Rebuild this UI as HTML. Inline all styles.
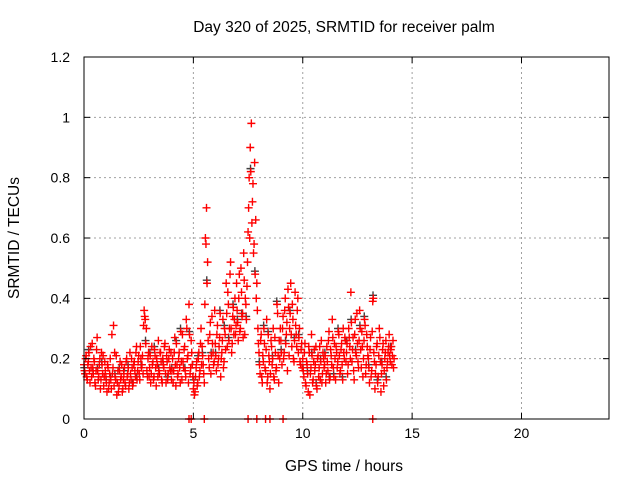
<!DOCTYPE html>
<html><head><meta charset="utf-8"><style>
html,body{margin:0;padding:0;background:#fff;}
svg{display:block;font-family:"Liberation Sans",sans-serif;}
</style></head><body>
<svg id="chart" width="640" height="480" viewBox="0 0 640 480" xmlns="http://www.w3.org/2000/svg">
<rect width="640" height="480" fill="#fff"/>
<g id="grid"></g>
<g id="pts"></g>
<g id="axes"></g>
<text x="344" y="32" font-size="15.5" text-anchor="middle">Day 320 of 2025, SRMTID for receiver palm</text>
<text x="344" y="471" font-size="15.5" text-anchor="middle">GPS time / hours</text>
<text transform="translate(19,238) rotate(-90)" font-size="15.5" text-anchor="middle">SRMTID / TECUs</text>
</svg>
<script>
const xTicks=[0,5,10,15,20];
const yTicks=[0,0.2,0.4,0.6,0.8,1,1.2];
const yTickLabels=["0","0.2","0.4","0.6","0.8","1","1.2"];
const stepHours=0.05;
const seriesA=[
.18,.15,.21,.13,.19,.16,.24,.14,.17,.20,.12,.16,.27,.13,.18,.10,.22,.15,.11,.19,
.14,.09,.17,.12,.20,.10,.15,.31,.22,.13,.08,.16,.11,.19,.14,.09,.13,.17,.11,.20,
.15,.10,.22,.13,.17,.12,.19,.14,.24,.16,.21,.13,.20,.18,.15,.36,.33,.30,.14,.22,
.17,.12,.24,.19,.14,.21,.11,.18,.26,.15,.22,.13,.20,.17,.25,.12,.19,.15,.23,.16,
.13,.20,.16,.27,.11,.18,.15,.22,.12,.19,.28,.17,.24,.14,.30,.21,.38,.15,.26,.18,
.10,.08,.14,.19,.12,.22,.16,.30,.24,.18,.12,.60,.70,.52,.20,.28,.15,.34,.22,.19,
.25,.16,.31,.20,.27,.14,.22,.33,.19,.28,.45,.24,.38,.30,.52,.22,.34,.28,.40,.31,
.36,.26,.48,.30,.42,.35,.55,.28,.38,.44,.62,.80,.90,.98,.72,.55,.85,.66,.45,.30,
.22,.15,.28,.12,.19,.25,.16,.33,.14,.21,.10,.26,.18,.30,.13,.22,.17,.35,.12,.20,
.26,.18,.34,.22,.40,.28,.16,.37,.30,.45,.24,.33,.19,.42,.28,.36,.22,.30,.18,.25,
.20,.14,.25,.11,.18,.09,.22,.15,.28,.12,.19,.16,.24,.10,.21,.17,.13,.26,.15,.20,
.18,.12,.24,.16,.29,.14,.21,.33,.17,.25,.13,.22,.19,.28,.15,.23,.18,.30,.20,.26,
.22,.15,.30,.24,.42,.19,.27,.13,.33,.21,.25,.17,.36,.23,.29,.14,.26,.31,.18,.24,
.20,.12,.27,.16,.39,.22,.10,.18,.25,.14,.30,.19,.15,.23,.11,.20,.26,.17,.22,.28,
.19,.24,.21,.17];
const seriesB=[
.16,.20,.14,.18,.22,.12,.17,.25,.15,.19,.11,.23,.16,.14,.20,.13,.18,.21,.14,.16,
.12,.18,.10,.15,.13,.28,.17,.11,.14,.21,.12,.09,.16,.13,.18,.10,.15,.12,.19,.14,
.17,.12,.15,.20,.11,.18,.16,.22,.13,.19,.15,.24,.17,.21,.31,.34,.25,.16,.20,.14,
.21,.15,.18,.13,.23,.17,.20,.14,.16,.22,.19,.12,.18,.24,.15,.21,.13,.20,.17,.22,
.16,.12,.22,.18,.25,.14,.20,.17,.29,.13,.19,.23,.16,.33,.20,.12,.28,.17,.22,.14,
.12,.09,.17,.11,.20,.14,.25,.18,.21,.15,.38,.58,.45,.26,.17,.32,.21,.25,.18,.36,
.21,.28,.18,.24,.35,.20,.26,.17,.30,.23,.35,.42,.26,.48,.30,.25,.37,.33,.28,.45,
.32,.40,.29,.50,.34,.27,.46,.40,.33,.52,.70,.60,.82,.65,.78,.58,.48,.40,.36,.25,
.18,.26,.14,.21,.30,.17,.23,.12,.28,.19,.15,.24,.20,.14,.27,.16,.38,.21,.26,.30,
.22,.30,.20,.36,.25,.32,.43,.21,.35,.28,.38,.20,.26,.31,.24,.40,.27,.19,.23,.17,
.16,.22,.12,.19,.15,.24,.08,.17,.21,.13,.23,.18,.11,.20,.14,.24,.19,.12,.22,.17,
.21,.15,.19,.26,.13,.23,.18,.27,.14,.20,.24,.17,.29,.21,.16,.25,.13,.22,.27,.19,
.25,.18,.27,.20,.32,.23,.16,.28,.22,.35,.19,.26,.30,.17,.24,.20,.33,.15,.28,.21,
.17,.23,.14,.29,.40,.19,.15,.24,.12,.21,.27,.09,.18,.25,.16,.22,.13,.19,.24,.21,
.23,.18,.26,.20];
const zeroTimes=[4.8,4.9,5.5,7.5,7.9,8.3,8.5,9.1,13.2];

const X0=84,X1=609,Y0=419,Y1=57;
const xs=h=>X0+(h/24)*(X1-X0);
const ys=v=>Y0-(v/1.2)*(Y0-Y1);
const NS="http://www.w3.org/2000/svg";
function mk(tag,attrs,parent){const e=document.createElementNS(NS,tag);for(const k in attrs)e.setAttribute(k,attrs[k]);parent.appendChild(e);return e;}
const grid=document.getElementById('grid'),axes=document.getElementById('axes'),pts=document.getElementById('pts');
xTicks.forEach(t=>{
 const x=xs(t);
 if(t>0){const l=mk('line',{x1:x,y1:Y1,x2:x,y2:Y0,stroke:'#a0a0a0','stroke-dasharray':'2,3'},grid);
 
 }
 mk('line',{x1:x,y1:Y0,x2:x,y2:Y0-6,stroke:'#000'},axes);
 mk('line',{x1:x,y1:Y1,x2:x,y2:Y1+6,stroke:'#000'},axes);
 const tx=mk('text',{x:x,y:Y0+19,'font-size':14,'text-anchor':'middle'},axes);
 tx.textContent=String(t);
 
 
});
yTicks.forEach((t,i)=>{
 const y=ys(t);
 if(t>0&&t<1.2){const l=mk('line',{x1:X0,y1:y,x2:X1,y2:y,stroke:'#a0a0a0','stroke-dasharray':'2,3'},grid);
 
 }
 mk('line',{x1:X0,y1:y,x2:X0+6,y2:y,stroke:'#000'},axes);
 mk('line',{x1:X1,y1:y,x2:X1-6,y2:y,stroke:'#000'},axes);
 const tx=mk('text',{x:X0-14,y:y+5,'font-size':14,'text-anchor':'end'},axes);
 tx.textContent=yTickLabels[i];
 
 
});
const border=mk('rect',{x:X0,y:Y1,width:X1-X0,height:Y0-Y1,fill:'none',stroke:'#000'},axes);


function plus(h,v,color){
 const x=xs(h),y=ys(v);
 const p=mk('path',{d:`M${x-4},${y}h8M${x},${y-4}v8`,stroke:color,'stroke-width':1.4,fill:'none'},pts);
 
 
}
seriesB.forEach((v,i)=>{ if(i%4===0) plus(i*stepHours+0.012,v+0.01,'#404040'); });
seriesA.forEach((v,i)=>plus(i*stepHours,v,'#ff0000'));
seriesB.forEach((v,i)=>plus(i*stepHours+0.025,v,'#ff0000'));
zeroTimes.forEach(t=>plus(t,0,'#ff0000'));
</script>
</body></html>
